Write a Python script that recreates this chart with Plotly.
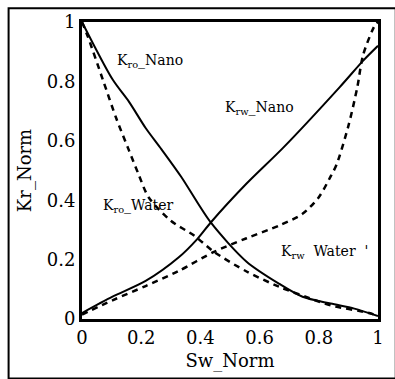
import plotly.graph_objects as go

# Data
kro_nano_x = [0.0, 0.103, 0.159, 0.215, 0.268, 0.335, 0.435, 0.556, 0.667, 0.745, 0.84, 0.92, 1.0]
kro_nano_y = [1.0, 0.807, 0.731, 0.643, 0.572, 0.479, 0.325, 0.193, 0.118, 0.075, 0.052, 0.035, 0.01]

kro_water_x = [0.0, 0.02, 0.07, 0.116, 0.159, 0.19, 0.225, 0.30, 0.38, 0.446, 0.556, 0.667, 0.755, 0.84, 0.97, 1.0]
kro_water_y = [1.0, 0.95, 0.807, 0.675, 0.567, 0.49, 0.41, 0.331, 0.28, 0.226, 0.16, 0.108, 0.075, 0.046, 0.02, 0.01]

krw_nano_x = [0.0, 0.103, 0.215, 0.325, 0.39, 0.435, 0.556, 0.68, 0.87, 0.95, 1.0]
krw_nano_y = [0.02, 0.075, 0.128, 0.206, 0.27, 0.325, 0.456, 0.577, 0.78, 0.87, 0.92]

krw_water_x = [0.0, 0.103, 0.215, 0.325, 0.446, 0.556, 0.667, 0.745, 0.80, 0.84, 0.86, 0.90, 0.93, 0.95, 0.99, 1.0]
krw_water_y = [0.015, 0.063, 0.111, 0.161, 0.226, 0.272, 0.315, 0.354, 0.41, 0.48, 0.52, 0.65, 0.78, 0.89, 0.99, 1.0]

x_ticks = [0, 0.2, 0.4, 0.6, 0.8, 1]
x_tick_labels = ["0", "0.2", "0.4", "0.6", "0.8", "1"]
y_ticks = [0, 0.2, 0.4, 0.6, 0.8, 1]
y_tick_labels = ["0", "0.2", "0.4", "0.6", "0.8", "1"]

labels = ["K<sub>ro</sub>_Nano", "K<sub>rw</sub>_Nano", "K<sub>ro</sub>_Water", "K<sub>rw</sub>  Water  '"]
label_x = [0.23, 0.60, 0.19, 0.82]
label_y = [0.87, 0.71, 0.38, 0.226]

FONT = "DejaVu Serif"

fig = go.Figure()
fig.add_trace(go.Scatter(x=kro_nano_x, y=kro_nano_y, mode="lines",
                         line=dict(color="black", width=2, shape="spline", smoothing=0.8),
                         showlegend=False))
fig.add_trace(go.Scatter(x=kro_water_x, y=kro_water_y, mode="lines",
                         line=dict(color="black", width=2.5, dash="6px,5px", shape="spline", smoothing=0.8),
                         showlegend=False))
fig.add_trace(go.Scatter(x=krw_nano_x, y=krw_nano_y, mode="lines",
                         line=dict(color="black", width=2, shape="spline", smoothing=0.8),
                         showlegend=False))
fig.add_trace(go.Scatter(x=krw_water_x, y=krw_water_y, mode="lines",
                         line=dict(color="black", width=2.5, dash="6px,5px", shape="spline", smoothing=0.8),
                         showlegend=False))

for t, lx, ly in zip(labels, label_x, label_y):
    fig.add_annotation(x=lx, y=ly, text=t, showarrow=False,
                       font=dict(family=FONT, size=14, color="black"))

# outer frame
fig.add_shape(type="rect", xref="paper", yref="paper",
              x0=-0.248, x1=1.06, y0=-0.2, y1=1.046,
              line=dict(color="black", width=2), layer="below")

fig.update_layout(
    width=395, height=379,
    margin=dict(l=82, r=11, t=21, b=53),
    paper_bgcolor="white", plot_bgcolor="white",
    font=dict(family=FONT, size=18, color="black"),
    xaxis=dict(range=[0, 1], tickvals=x_ticks, ticktext=x_tick_labels,
               showgrid=False, zeroline=False, showline=True, mirror=True,
               linecolor="black", linewidth=3, ticks="", ticklen=0,
               title=dict(text="Sw_Norm", standoff=8, font=dict(size=18))),
    yaxis=dict(range=[0, 1], tickvals=y_ticks, ticktext=y_tick_labels,
               showgrid=False, zeroline=False, showline=True, mirror=True,
               linecolor="black", linewidth=3, ticks="", ticklen=0,
               title=dict(text="Kr_Norm", standoff=11, font=dict(size=18))),
)

fig.write_html("out.html")
